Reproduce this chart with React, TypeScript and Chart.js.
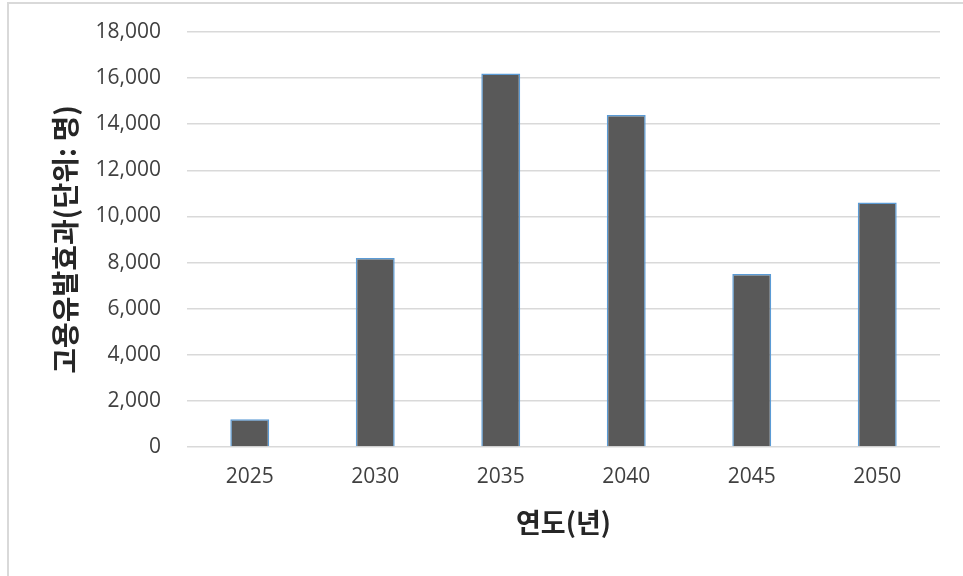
import React, { useEffect, useRef } from "react";
import { Chart, registerables } from "chart.js";

Chart.register(...registerables);

const years = ["2025", "2030", "2035", "2040", "2045", "2050"];
const employment = [1200, 8200, 16200, 14400, 7500, 10600];
const yTitle = "고용유발효과(단위: 명)";
const xTitle = "연도(년)";

export default function App() {
  const ref = useRef<HTMLCanvasElement | null>(null);

  useEffect(() => {
    if (!ref.current) return;
    const chart = new Chart(ref.current, {
      type: "bar",
      data: {
        labels: years,
        datasets: [
          {
            data: employment,
            backgroundColor: "#595959",
            borderColor: "#5B9BD5",
            borderWidth: 1.5,
            barPercentage: 0.31,
            categoryPercentage: 1,
          },
        ],
      },
      options: {
        animation: false,
        responsive: true,
        maintainAspectRatio: false,
        layout: { padding: { left: 8, top: 32, right: 23, bottom: 0 } },
        plugins: { legend: { display: false }, tooltip: { enabled: false } },
        scales: {
          x: {
            grid: { display: false, drawTicks: false },
            border: { display: false },
            ticks: {
              color: "#404040",
              font: { family: "'Open Sans', 'Noto Sans CJK KR'", size: 21 },
              padding: 17,
            },
            title: {
              display: true,
              text: xTitle,
              color: "#262626",
              font: { family: "'Noto Sans CJK KR'", size: 27, weight: "bold" },
              padding: { top: 0, bottom: 37 },
            },
            afterFit: (s: any) => {
              s.height = 129;
              s.paddingLeft = 0;
              s.paddingRight = 0;
            },
          },
          y: {
            min: 0,
            max: 18000,
            grid: { color: "#D9D9D9", lineWidth: 1.5, drawTicks: false },
            border: { display: false },
            ticks: {
              stepSize: 2000,
              color: "#404040",
              font: { family: "'Open Sans', 'Noto Sans CJK KR'", size: 21 },
              padding: 26,
              callback: (v: any) => Number(v).toLocaleString("en-US"),
            },
            title: {
              display: true,
              text: yTitle,
              color: "#262626",
              font: { family: "'Noto Sans CJK KR'", size: 28, weight: "bold" },
              padding: { top: 41, bottom: 0 },
            },
            afterFit: (s: any) => {
              s.width = 179;
              s.paddingTop = 0;
              s.paddingBottom = 0;
            },
          },
        },
      },
    });
    return () => chart.destroy();
  }, []);

  return (
    <div
      style={{
        position: "fixed",
        left: 0,
        top: 0,
        width: 963,
        height: 576,
        background: "#fff",
      }}
    >
      <div
        style={{
          position: "absolute",
          left: 7,
          top: 2,
          right: -2,
          bottom: -2,
          borderTop: "2px solid #D9D9D9",
          borderLeft: "2px solid #D9D9D9",
        }}
      />
      <canvas ref={ref} style={{ position: "absolute", left: 0, top: 0 }} />
    </div>
  );
}
